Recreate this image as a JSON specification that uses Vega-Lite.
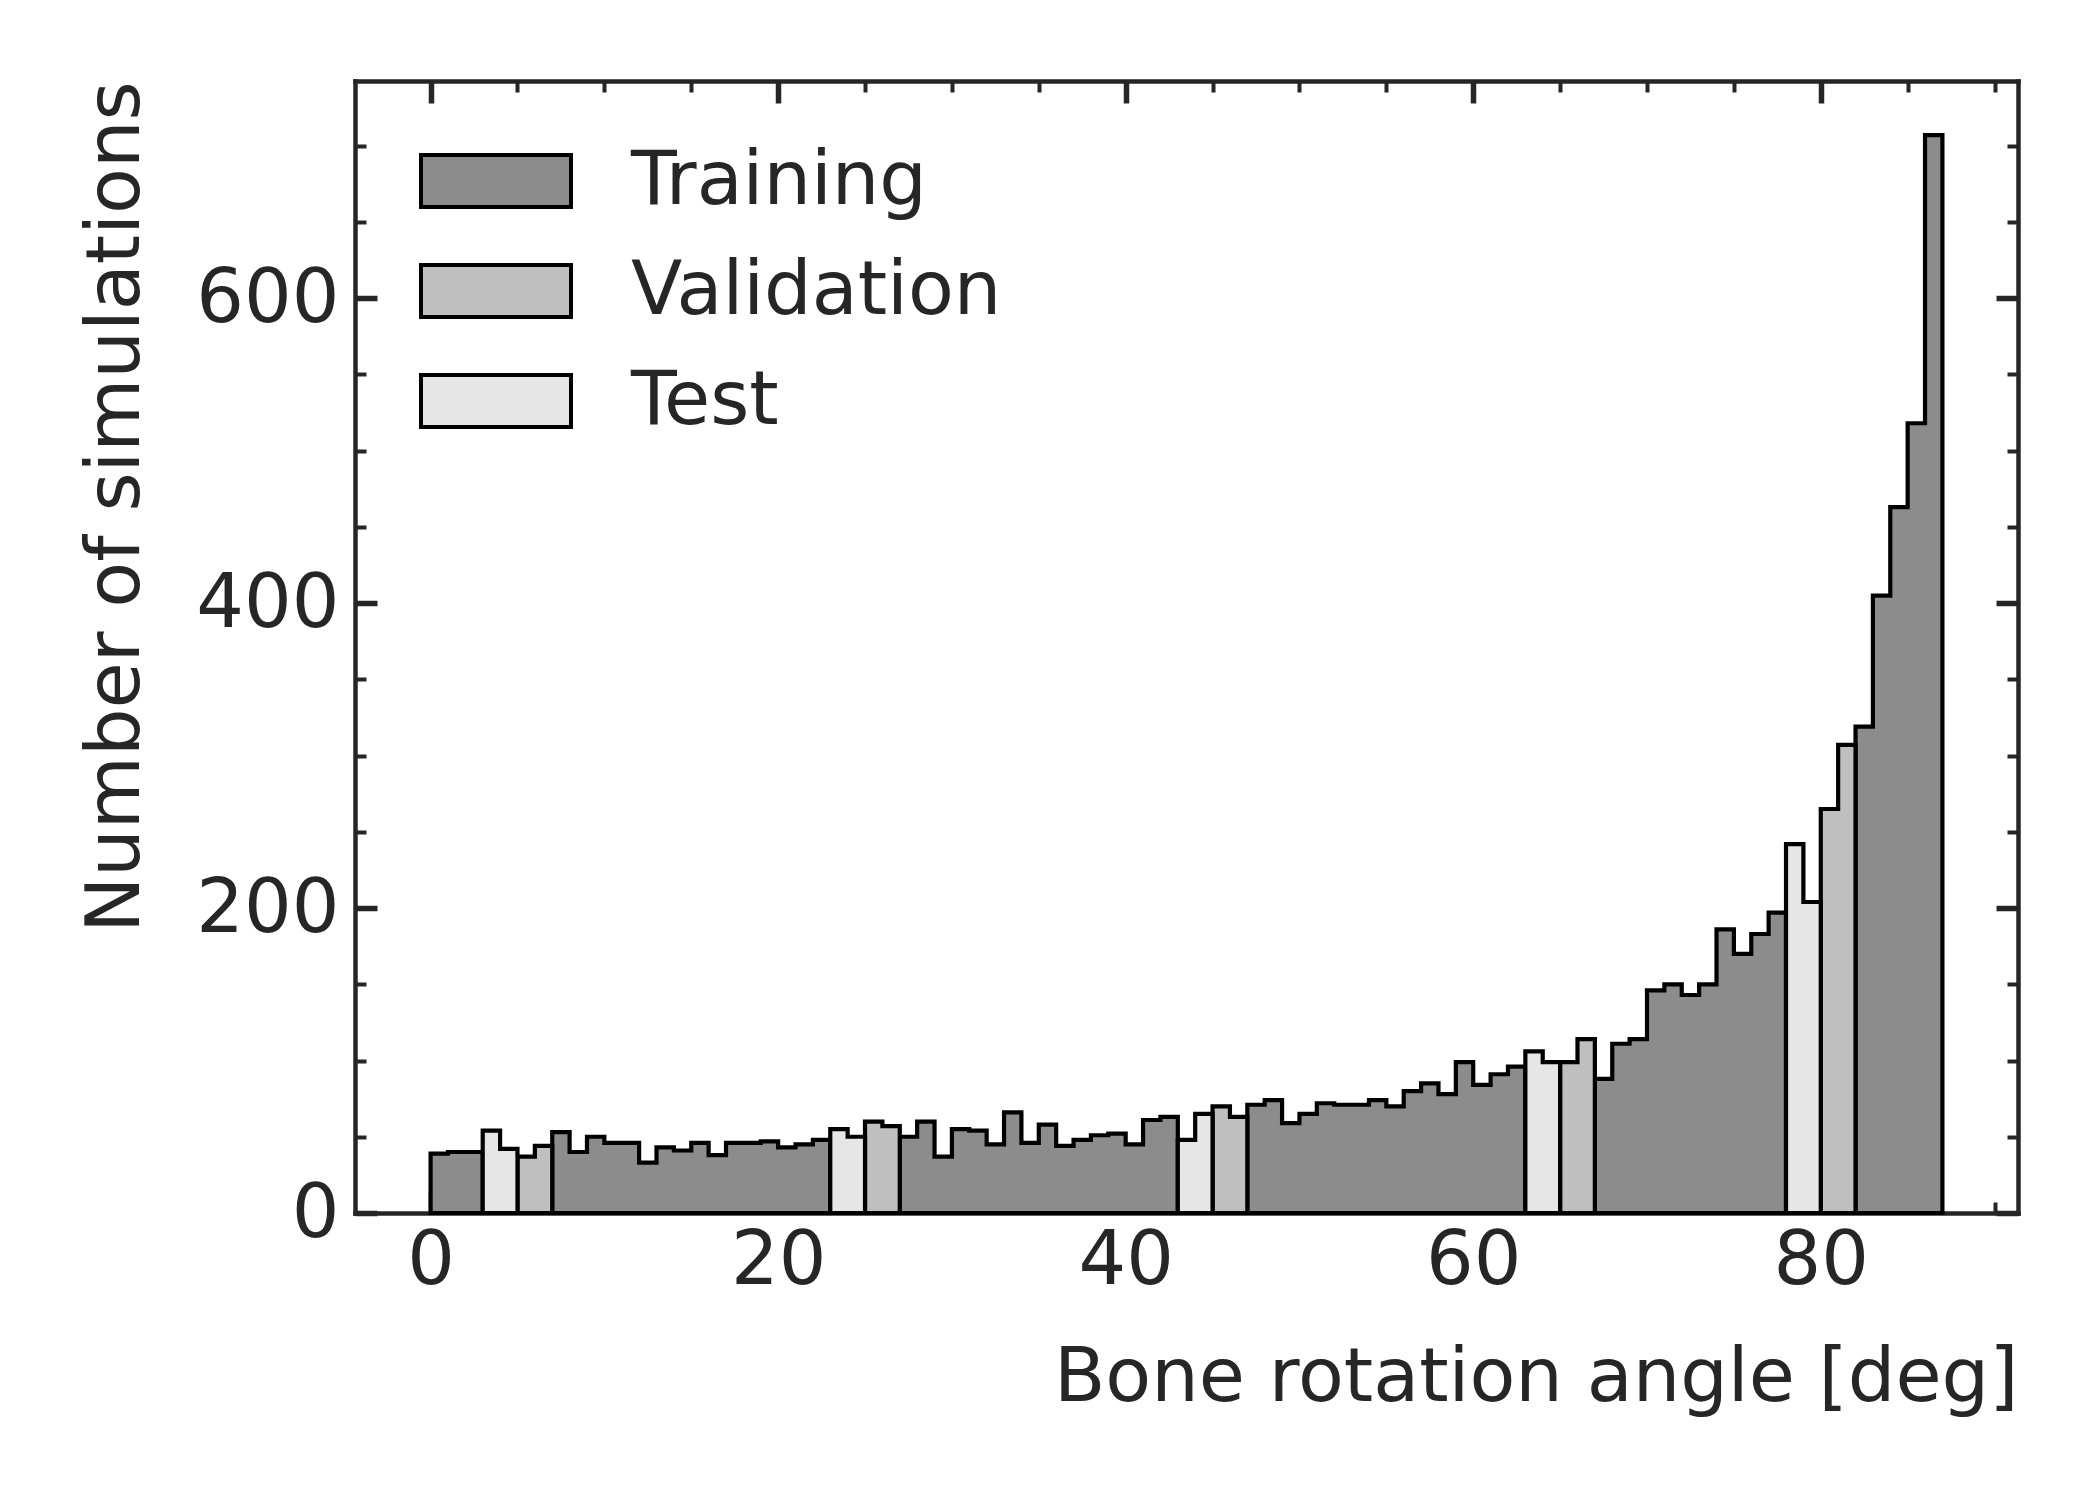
{
  "$schema": "https://vega.github.io/schema/vega-lite/v6.json",
  "width": 1663,
  "height": 1132,
  "autosize": {"type": "none"},
  "padding": {"left": 355, "top": 81, "right": 82, "bottom": 287},
  "background": "white",
  "config": {
    "font": "DejaVu Sans",
    "view": {"stroke": null},
    "axis": {
      "grid": false,
      "domain": true,
      "domainColor": "#262626",
      "domainWidth": 4.5,
      "domainCap": "square",
      "tickColor": "#262626",
      "labelFont": "DejaVu Sans",
      "labelFontSize": 75,
      "labelColor": "#262626",
      "labelOverlap": false,
      "labelFlush": false,
      "titleFont": "DejaVu Sans",
      "titleFontSize": 75,
      "titleFontWeight": "normal",
      "titleColor": "#262626",
      "zindex": 1
    }
  },
  "data": {
    "values": [
      {"angle": 0, "Training": 39, "Validation": 0, "Test": 0},
      {"angle": 1, "Training": 40, "Validation": 0, "Test": 0},
      {"angle": 2, "Training": 40, "Validation": 0, "Test": 0},
      {"angle": 3, "Training": 0, "Validation": 0, "Test": 54},
      {"angle": 4, "Training": 0, "Validation": 0, "Test": 42},
      {"angle": 5, "Training": 0, "Validation": 37, "Test": 0},
      {"angle": 6, "Training": 0, "Validation": 44, "Test": 0},
      {"angle": 7, "Training": 53, "Validation": 0, "Test": 0},
      {"angle": 8, "Training": 40, "Validation": 0, "Test": 0},
      {"angle": 9, "Training": 50, "Validation": 0, "Test": 0},
      {"angle": 10, "Training": 46, "Validation": 0, "Test": 0},
      {"angle": 11, "Training": 46, "Validation": 0, "Test": 0},
      {"angle": 12, "Training": 33, "Validation": 0, "Test": 0},
      {"angle": 13, "Training": 43, "Validation": 0, "Test": 0},
      {"angle": 14, "Training": 41, "Validation": 0, "Test": 0},
      {"angle": 15, "Training": 46, "Validation": 0, "Test": 0},
      {"angle": 16, "Training": 38, "Validation": 0, "Test": 0},
      {"angle": 17, "Training": 46, "Validation": 0, "Test": 0},
      {"angle": 18, "Training": 46, "Validation": 0, "Test": 0},
      {"angle": 19, "Training": 47, "Validation": 0, "Test": 0},
      {"angle": 20, "Training": 43, "Validation": 0, "Test": 0},
      {"angle": 21, "Training": 45, "Validation": 0, "Test": 0},
      {"angle": 22, "Training": 48, "Validation": 0, "Test": 0},
      {"angle": 23, "Training": 0, "Validation": 0, "Test": 55},
      {"angle": 24, "Training": 0, "Validation": 0, "Test": 50},
      {"angle": 25, "Training": 0, "Validation": 60, "Test": 0},
      {"angle": 26, "Training": 0, "Validation": 57, "Test": 0},
      {"angle": 27, "Training": 50, "Validation": 0, "Test": 0},
      {"angle": 28, "Training": 60, "Validation": 0, "Test": 0},
      {"angle": 29, "Training": 37, "Validation": 0, "Test": 0},
      {"angle": 30, "Training": 55, "Validation": 0, "Test": 0},
      {"angle": 31, "Training": 54, "Validation": 0, "Test": 0},
      {"angle": 32, "Training": 45, "Validation": 0, "Test": 0},
      {"angle": 33, "Training": 66, "Validation": 0, "Test": 0},
      {"angle": 34, "Training": 46, "Validation": 0, "Test": 0},
      {"angle": 35, "Training": 58, "Validation": 0, "Test": 0},
      {"angle": 36, "Training": 44, "Validation": 0, "Test": 0},
      {"angle": 37, "Training": 48, "Validation": 0, "Test": 0},
      {"angle": 38, "Training": 51, "Validation": 0, "Test": 0},
      {"angle": 39, "Training": 52, "Validation": 0, "Test": 0},
      {"angle": 40, "Training": 45, "Validation": 0, "Test": 0},
      {"angle": 41, "Training": 61, "Validation": 0, "Test": 0},
      {"angle": 42, "Training": 63, "Validation": 0, "Test": 0},
      {"angle": 43, "Training": 0, "Validation": 0, "Test": 48},
      {"angle": 44, "Training": 0, "Validation": 0, "Test": 65},
      {"angle": 45, "Training": 0, "Validation": 70, "Test": 0},
      {"angle": 46, "Training": 0, "Validation": 63, "Test": 0},
      {"angle": 47, "Training": 71, "Validation": 0, "Test": 0},
      {"angle": 48, "Training": 74, "Validation": 0, "Test": 0},
      {"angle": 49, "Training": 59, "Validation": 0, "Test": 0},
      {"angle": 50, "Training": 65, "Validation": 0, "Test": 0},
      {"angle": 51, "Training": 72, "Validation": 0, "Test": 0},
      {"angle": 52, "Training": 71, "Validation": 0, "Test": 0},
      {"angle": 53, "Training": 71, "Validation": 0, "Test": 0},
      {"angle": 54, "Training": 74, "Validation": 0, "Test": 0},
      {"angle": 55, "Training": 70, "Validation": 0, "Test": 0},
      {"angle": 56, "Training": 80, "Validation": 0, "Test": 0},
      {"angle": 57, "Training": 85, "Validation": 0, "Test": 0},
      {"angle": 58, "Training": 78, "Validation": 0, "Test": 0},
      {"angle": 59, "Training": 99, "Validation": 0, "Test": 0},
      {"angle": 60, "Training": 84, "Validation": 0, "Test": 0},
      {"angle": 61, "Training": 91, "Validation": 0, "Test": 0},
      {"angle": 62, "Training": 96, "Validation": 0, "Test": 0},
      {"angle": 63, "Training": 0, "Validation": 0, "Test": 106},
      {"angle": 64, "Training": 0, "Validation": 0, "Test": 99},
      {"angle": 65, "Training": 0, "Validation": 99, "Test": 0},
      {"angle": 66, "Training": 0, "Validation": 114, "Test": 0},
      {"angle": 67, "Training": 88, "Validation": 0, "Test": 0},
      {"angle": 68, "Training": 111, "Validation": 0, "Test": 0},
      {"angle": 69, "Training": 114, "Validation": 0, "Test": 0},
      {"angle": 70, "Training": 146, "Validation": 0, "Test": 0},
      {"angle": 71, "Training": 150, "Validation": 0, "Test": 0},
      {"angle": 72, "Training": 143, "Validation": 0, "Test": 0},
      {"angle": 73, "Training": 150, "Validation": 0, "Test": 0},
      {"angle": 74, "Training": 186, "Validation": 0, "Test": 0},
      {"angle": 75, "Training": 170, "Validation": 0, "Test": 0},
      {"angle": 76, "Training": 183, "Validation": 0, "Test": 0},
      {"angle": 77, "Training": 197, "Validation": 0, "Test": 0},
      {"angle": 78, "Training": 0, "Validation": 0, "Test": 242},
      {"angle": 79, "Training": 0, "Validation": 0, "Test": 204},
      {"angle": 80, "Training": 0, "Validation": 265, "Test": 0},
      {"angle": 81, "Training": 0, "Validation": 307, "Test": 0},
      {"angle": 82, "Training": 319, "Validation": 0, "Test": 0},
      {"angle": 83, "Training": 405, "Validation": 0, "Test": 0},
      {"angle": 84, "Training": 463, "Validation": 0, "Test": 0},
      {"angle": 85, "Training": 518, "Validation": 0, "Test": 0},
      {"angle": 86, "Training": 707, "Validation": 0, "Test": 0},
      {"angle": 87, "Training": 0, "Validation": 0, "Test": 0}
    ]
  },
  "transform": [
    {"fold": ["Training", "Validation", "Test"], "as": ["set", "count"]}
  ],
  "layer": [
    {
      "mark": {
        "type": "area",
        "interpolate": "step-after",
        "stroke": "black",
        "strokeWidth": 4.2,
        "strokeJoin": "miter",
        "opacity": 1,
        "fillOpacity": 1
      },
      "encoding": {
        "x": {
          "field": "angle",
          "type": "quantitative",
          "scale": {"domain": [-4.35, 91.35], "nice": false, "zero": false},
          "axis": {
            "orient": "bottom",
            "values": [0, 5, 10, 15, 20, 25, 30, 35, 40, 45, 50, 55, 60, 65, 70, 75, 80, 85, 90],
            "tickSize": {"condition": {"test": "datum.value % 20 === 0", "value": -22}, "value": -11},
            "tickWidth": {"condition": {"test": "datum.value % 20 === 0", "value": 5.5}, "value": 4},
            "labelExpr": "datum.value % 20 === 0 ? datum.label : ''",
            "labelPadding": 33.5,
            "title": "Bone rotation angle [deg]",
            "titleAnchor": "end",
            "titlePadding": 32
          }
        },
        "y": {
          "field": "count",
          "type": "quantitative",
          "stack": null,
          "scale": {"domain": [0, 742.5], "nice": false},
          "axis": {
            "orient": "left",
            "values": [0, 50, 100, 150, 200, 250, 300, 350, 400, 450, 500, 550, 600, 650, 700],
            "tickSize": {"condition": {"test": "datum.value % 200 === 0", "value": -22}, "value": -11},
            "tickWidth": {"condition": {"test": "datum.value % 200 === 0", "value": 5.5}, "value": 4},
            "labelExpr": "datum.value % 200 === 0 ? datum.label : ''",
            "labelPadding": 38,
            "title": "Number of simulations",
            "titleAnchor": "end",
            "titlePadding": 41
          }
        },
        "color": {
          "field": "set",
          "type": "nominal",
          "scale": {
            "domain": ["Training", "Validation", "Test"],
            "range": ["#8c8c8c", "#bfbfbf", "#e6e6e6"]
          },
          "legend": {
            "orient": "none",
            "legendX": 69,
            "legendY": 28,
            "title": null,
            "padding": 0,
            "symbolType": "M-1.0714,-0.3714L1.0714,-0.3714L1.0714,0.3714L-1.0714,0.3714Z",
            "symbolSize": 19600,
            "symbolStrokeColor": "black",
            "symbolStrokeWidth": 4,
            "symbolOpacity": 1,
            "labelFont": "DejaVu Sans",
            "labelFontSize": 75,
            "labelColor": "#262626",
            "labelLimit": 1000,
            "labelOffset": 63,
            "rowPadding": 0
          }
        }
      }
    },
    {
      "mark": {"type": "tick", "opacity": 0},
      "encoding": {
        "x": {
          "field": "angle",
          "type": "quantitative",
          "axis": {
            "orient": "top",
            "values": [0, 5, 10, 15, 20, 25, 30, 35, 40, 45, 50, 55, 60, 65, 70, 75, 80, 85, 90],
            "tickSize": {"condition": {"test": "datum.value % 20 === 0", "value": -22}, "value": -11},
            "tickWidth": {"condition": {"test": "datum.value % 20 === 0", "value": 5.5}, "value": 4},
            "labels": false,
            "title": null
          }
        },
        "y": {
          "field": "count",
          "type": "quantitative",
          "axis": {
            "orient": "right",
            "values": [0, 50, 100, 150, 200, 250, 300, 350, 400, 450, 500, 550, 600, 650, 700],
            "tickSize": {"condition": {"test": "datum.value % 200 === 0", "value": -22}, "value": -11},
            "tickWidth": {"condition": {"test": "datum.value % 200 === 0", "value": 5.5}, "value": 4},
            "labels": false,
            "title": null
          }
        }
      }
    }
  ],
  "resolve": {"axis": {"x": "independent", "y": "independent"}}
}
